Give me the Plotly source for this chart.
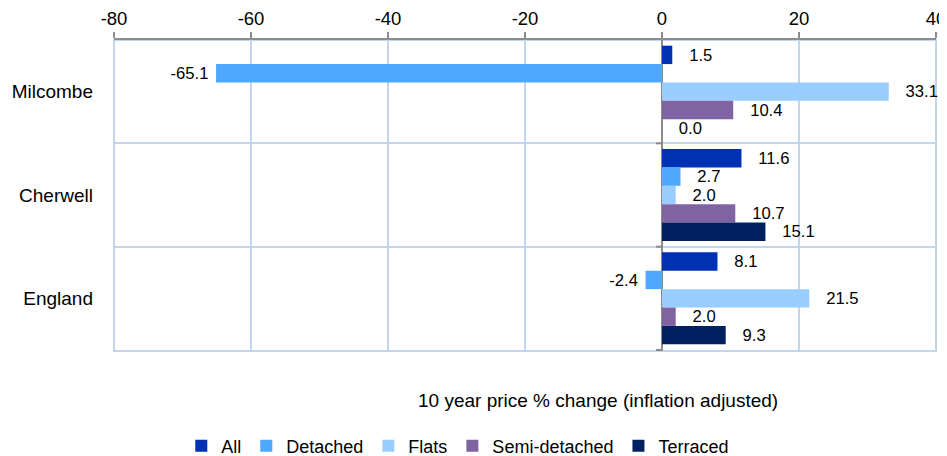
import plotly.graph_objects as go

categories = ["Milcombe", "Cherwell", "England"]
series_names = ["All", "Detached", "Flats", "Semi-detached", "Terraced"]
all_vals = [1.5, 11.6, 8.1]
detached_vals = [-65.1, 2.7, -2.4]
flats_vals = [33.1, 2.0, 21.5]
semi_vals = [10.4, 10.7, 2.0]
terraced_vals = [0.0, 15.1, 9.3]
x_ticks = [-80, -60, -40, -20, 0, 20, 40]

series_values = [all_vals, detached_vals, flats_vals, semi_vals, terraced_vals]
colors = ["#0031B5", "#4FA8FF", "#99CCFF", "#8064A2", "#002060"]
FONT = "Liberation Sans, Arial"
NB = "\u00a0"

fig = go.Figure()
for name, vals, col in zip(series_names, series_values, colors):
    texts = [(NB * 3 + f"{v:.1f}") if v >= 0 else (f"{v:.1f}" + NB) for v in vals]
    fig.add_trace(go.Bar(
        y=categories, x=vals, name=name, orientation="h",
        marker=dict(color=col, line=dict(width=0)),
        text=texts, textposition="outside", cliponaxis=False,
        textfont=dict(size=19, color="#000000", family=FONT),
        hoverinfo="x+name",
    ))

grid_col = "#C3D5EC"
shapes = [dict(type="rect", xref="paper", yref="paper", x0=0, x1=1, y0=0, y1=1,
               line=dict(color=grid_col, width=2), layer="below")]
for b in [0.5, 1.5, 2.5]:
    shapes.append(dict(type="line", xref="x", yref="y", xsizemode="pixel", xanchor=0,
                       x0=-6, x1=0, y0=b, y1=b, line=dict(color="#8c8c8c", width=2)))

# page body has an 8px margin, so the figure is sized/offset to compensate
fig.update_layout(
    width=939, height=448,
    margin=dict(l=106, r=11, t=32, b=105, autoexpand=False),
    paper_bgcolor="white", plot_bgcolor="white",
    barmode="group", bargap=0.11, bargroupgap=0,
    font=dict(family=FONT, size=18, color="#000000"),
    xaxis=dict(
        side="top", range=[-80, 40], tickvals=x_ticks, ticktext=[str(t) for t in x_ticks],
        showline=True, linecolor="#8c8c8c", linewidth=2,
        ticks="outside", ticklen=6, tickwidth=2, tickcolor="#8c8c8c",
        showgrid=True, gridcolor=grid_col, gridwidth=2,
        zeroline=True, zerolinecolor="#8c8c8c", zerolinewidth=2,
        tickfont=dict(size=18.5), ticklabelstandoff=0, automargin=False,
    ),
    yaxis=dict(
        autorange="reversed", tickson="boundaries", ticks="",
        showgrid=True, gridcolor=grid_col, gridwidth=2,
        showline=False, tickfont=dict(size=19), ticklabelstandoff=20, automargin=False,
    ),
    showlegend=True,
    legend=dict(orientation="h", xref="container", yref="container",
                x=0.479, y=0.022, xanchor="center", yanchor="middle",
                font=dict(size=18), traceorder="normal", itemwidth=30),
    shapes=shapes,
    annotations=[dict(text="10 year price % change (inflation adjusted)",
                      xref="paper", yref="paper", x=0.589, y=-0.158,
                      xanchor="center", yanchor="middle", showarrow=False,
                      font=dict(size=19))],
)

fig.write_html("out.html")
